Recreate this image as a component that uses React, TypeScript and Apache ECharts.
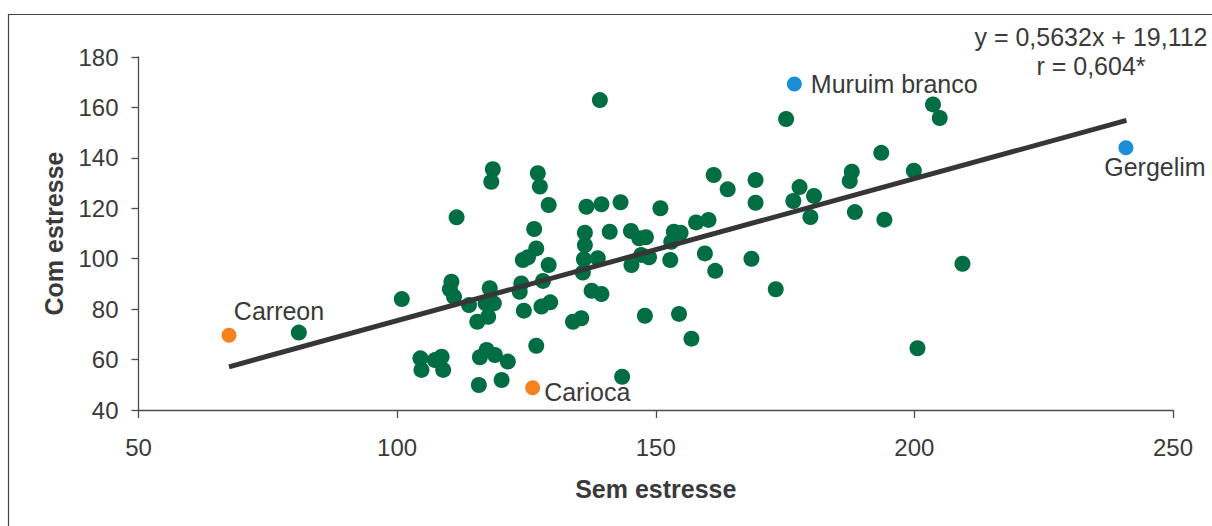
import { useEffect, useRef } from "react";
import * as echarts from "echarts";

// Produtividade das cultivares: sem estresse (x) versus com estresse (y)
const semEstresse = [
  81.0, 100.9, 104.5, 104.7, 107.3, 108.6, 108.9, 110.5, 110.2, 111.0,
  111.5, 113.9, 115.5, 116.0, 115.8, 117.3, 117.6, 117.1, 118.7, 117.9,
  118.9, 118.5, 118.2, 120.2, 121.4, 123.7, 124.0, 124.5, 124.3, 125.3,
  126.5, 126.9, 126.9, 127.2, 127.6, 128.2, 127.9, 129.3, 129.3, 129.6,
  134.0, 135.6, 136.1, 136.3, 136.3, 135.9, 136.6, 137.6, 138.8, 139.5,
  139.5, 139.2, 141.1, 143.2, 143.5, 145.2, 145.3, 146.8, 148.1, 147.2,
  148.7, 147.9, 150.9, 152.8, 153.0, 153.5, 154.8, 154.5, 156.9, 157.8,
  160.2, 159.5, 161.2, 161.5, 163.9, 168.5, 169.3, 169.3, 173.2, 175.2,
  177.8, 176.6, 180.6, 179.9, 187.9, 187.5, 188.5, 193.6, 194.2, 199.9,
  200.6, 203.6, 204.9, 209.3,
];
const comEstresse = [
  70.7, 84.0, 60.5, 55.9, 59.8, 61.1, 55.9, 90.9, 87.9, 84.9,
  116.4, 81.6, 75.0, 60.9, 49.9, 63.8, 77.0, 82.3, 82.3, 88.3,
  61.8, 135.5, 130.5, 51.9, 59.2, 86.9, 90.2, 79.4, 99.5, 100.6,
  111.8, 104.1, 65.5, 133.9, 128.6, 91.2, 81.0, 97.5, 121.3, 82.7,
  75.0, 76.4, 99.8, 105.4, 110.3, 94.5, 120.6, 87.3, 100.2, 86.0,
  121.6, 162.9, 110.7, 122.4, 53.2, 111.0, 97.5, 108.1, 108.5, 101.5,
  100.6, 77.4, 120.0, 99.5, 106.7, 110.7, 110.3, 78.1, 68.3, 114.4,
  115.4, 102.1, 133.2, 95.2, 127.5, 100.0, 131.2, 122.2, 87.9, 155.4,
  128.4, 122.9, 124.9, 116.5, 134.5, 130.8, 118.5, 142.0, 115.5, 134.9,
  64.5, 161.2, 155.8, 98.0,
];

// Cultivares destacadas
const destaqueNomes = ["Carreon", "Carioca", "Muruim branco", "Gergelim"];
const destaqueSem = [67.5, 126.2, 176.8, 240.9];
const destaqueCom = [69.6, 48.8, 169.3, 144.0];
const destaqueCores = ["#f5821f", "#f5821f", "#1a8fd6", "#1a8fd6"];

// Eixos
const xTicks = [50, 100, 150, 200, 250];
const yTicks = [40, 60, 80, 100, 120, 140, 160, 180];

// Reta de regressão: y = 0,5632x + 19,112
const inclinacao = 0.5632;
const intercepto = 19.112;
const faixaReta = [67.5, 241];
const equacaoTexto = "y = 0,5632x + 19,112";
const correlacaoTexto = "r = 0,604*";

const FONT = "'Liberation Sans', Arial, Helvetica, sans-serif";
const TEXT = "#3a3a3a";
const AXIS = "#4d4d4d";

// Posicionamento dos rótulos das cultivares destacadas
const rotuloEstilos: any[] = [
  { position: "inside", offset: [50, -24] },
  { position: "right", distance: 4, offset: [0, 4] },
  { position: "right", distance: 9, offset: [0, 0] },
  { position: "inside", offset: [29, 19] },
];

export default function App() {
  const ref = useRef<HTMLDivElement>(null);

  useEffect(() => {
    if (!ref.current) return;
    const chart = echarts.init(ref.current, undefined, { renderer: "svg" });

    const pontos = semEstresse.map((x, i) => [x, comEstresse[i]]);
    const destaques = destaqueNomes.map((nome, i) => ({
      name: nome,
      value: [destaqueSem[i], destaqueCom[i]],
      itemStyle: { color: destaqueCores[i], opacity: 1 },
      label: {
        show: true,
        formatter: nome,
        color: TEXT,
        fontSize: 25,
        fontFamily: FONT,
        ...rotuloEstilos[i],
      },
    }));
    const reta = faixaReta.map((x) => [x, inclinacao * x + intercepto]);

    chart.setOption({
      animation: false,
      backgroundColor: "#ffffff",
      textStyle: { fontFamily: FONT },
      grid: { left: 138.5, right: 39, top: 57, bottom: 116 },
      xAxis: {
        type: "value",
        min: xTicks[0],
        max: xTicks[xTicks.length - 1],
        interval: xTicks[1] - xTicks[0],
        name: "Sem estresse",
        nameLocation: "middle",
        nameGap: 66,
        nameTextStyle: { fontSize: 25, fontWeight: "bold", color: TEXT, fontFamily: FONT },
        axisLine: { show: true, lineStyle: { color: AXIS, width: 1.3 } },
        axisTick: { show: true, length: 8, inside: false, lineStyle: { color: AXIS, width: 1.3 } },
        axisLabel: { fontSize: 24, color: TEXT, margin: 25, fontFamily: FONT },
        splitLine: { show: false },
      },
      yAxis: {
        type: "value",
        min: yTicks[0],
        max: yTicks[yTicks.length - 1],
        interval: yTicks[1] - yTicks[0],
        name: "Com estresse",
        nameLocation: "middle",
        nameGap: 72,
        nameRotate: 90,
        nameTextStyle: { fontSize: 25, fontWeight: "bold", color: TEXT, fontFamily: FONT },
        axisLine: { show: true, lineStyle: { color: AXIS, width: 1.3 } },
        axisTick: { show: true, length: 7, inside: false, lineStyle: { color: AXIS, width: 1.3 } },
        axisLabel: { fontSize: 24, color: TEXT, margin: 20, fontFamily: FONT },
        splitLine: { show: false },
      },
      series: [
        {
          type: "scatter",
          data: pontos,
          symbolSize: 16,
          itemStyle: { color: "#006d43", opacity: 1 },
          z: 2,
        },
        {
          type: "scatter",
          data: destaques,
          symbolSize: 15,
          itemStyle: { opacity: 1 },
          z: 3,
        },
        {
          type: "line",
          data: reta,
          symbol: "none",
          lineStyle: { color: "#363636", width: 5 },
          z: 4,
        },
      ],
      graphic: [
        {
          type: "rect",
          shape: { x: 8.5, y: 14.5, width: 1220, height: 530 },
          style: { fill: "none", stroke: "#444444", lineWidth: 1.2 },
          silent: true,
        },
        {
          type: "text",
          x: 1091,
          y: 37,
          style: {
            text: equacaoTexto,
            fill: TEXT,
            font: `25px ${FONT}`,
            textAlign: "center",
            textVerticalAlign: "middle",
          },
        },
        {
          type: "text",
          x: 1091,
          y: 66,
          style: {
            text: correlacaoTexto,
            fill: TEXT,
            font: `25px ${FONT}`,
            textAlign: "center",
            textVerticalAlign: "middle",
          },
        },
      ],
    });

    return () => chart.dispose();
  }, []);

  return (
    <div
      ref={ref}
      style={{ position: "fixed", left: 0, top: 0, width: 1212, height: 526 }}
    />
  );
}
